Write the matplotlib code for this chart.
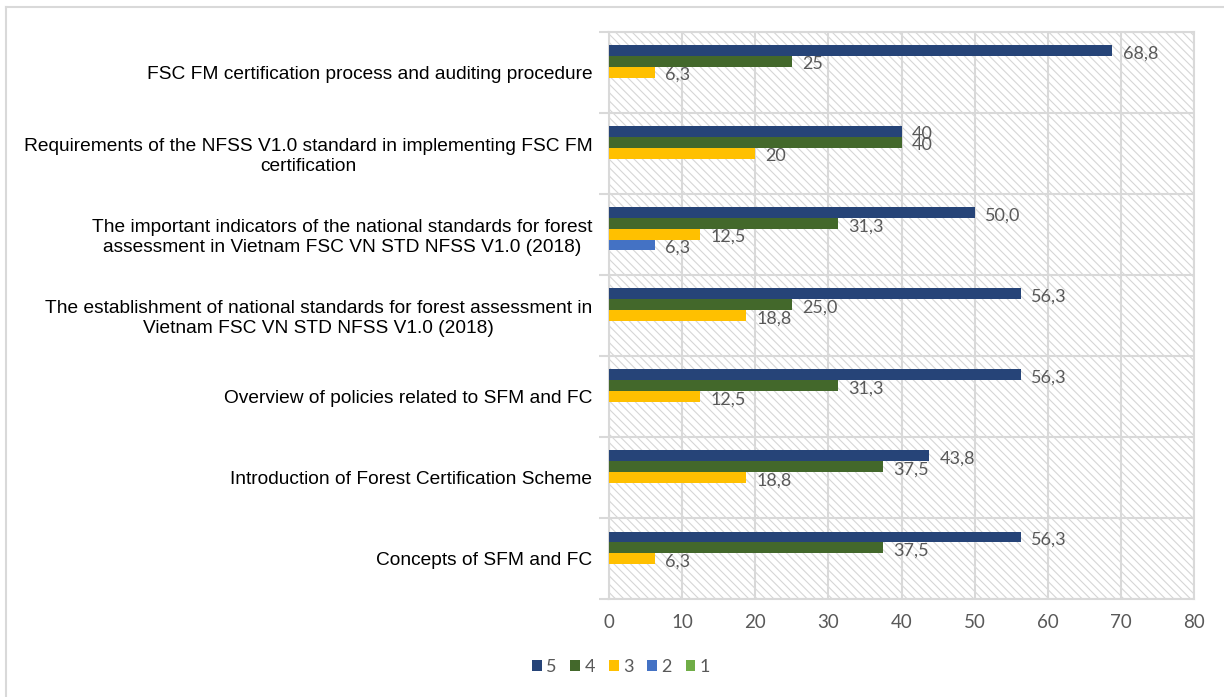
import matplotlib
matplotlib.use("Agg")
import matplotlib.pyplot as plt
from matplotlib.patches import Rectangle, Patch
from matplotlib.lines import Line2D
import numpy as np

categories = [
    "Concepts of SFM and FC",
    "Introduction of Forest Certification Scheme",
    "Overview of policies related to SFM and FC",
    "The establishment of national standards for forest assessment in\nVietnam FSC VN STD NFSS V1.0 (2018)",
    "The important indicators of the national standards for forest\nassessment in Vietnam FSC VN STD NFSS V1.0 (2018)",
    "Requirements of the NFSS V1.0 standard in implementing FSC FM\ncertification",
    "FSC FM certification process and auditing procedure",
]
series_names = ["5", "4", "3", "2", "1"]
s5 = [56.3, 43.8, 56.3, 56.3, 50.0, 40, 68.8]
s4 = [37.5, 37.5, 31.3, 25.0, 31.3, 40, 25]
s3 = [6.3, 18.8, 12.5, 18.8, 12.5, 20, 6.3]
s2 = [0, 0, 0, 0, 6.3, 0, 0]
s1 = [0, 0, 0, 0, 0, 0, 0]
l5 = ["56,3", "43,8", "56,3", "56,3", "50,0", "40", "68,8"]
l4 = ["37,5", "37,5", "31,3", "25,0", "31,3", "40", "25"]
l3 = ["6,3", "18,8", "12,5", "18,8", "12,5", "20", "6,3"]
l2 = ["", "", "", "", "6,3", "", ""]
l1 = ["", "", "", "", "", "", ""]
xticks = [0, 10, 20, 30, 40, 50, 60, 70, 80]

colors = ["#264478", "#43682B", "#FFC000", "#4472C4", "#70AD47"]
values = [s5, s4, s3, s2, s1]
labels = [l5, l4, l3, l2, l1]

W, H = 1224, 697
fig = plt.figure(figsize=(W / 100, H / 100), dpi=100)
fig.patch.set_facecolor("white")
ax = fig.add_axes([609 / W, 1 - 599 / H, (1194 - 609) / W, (599 - 31.7) / H])

grid_c = "#d9d9d9"
plt.rcParams["hatch.linewidth"] = 0.8
plt.rcParams["hatch.color"] = "#d6d6d6"
bg = Rectangle((0, 0), 1, 1, transform=ax.transAxes, facecolor="white",
               edgecolor="#d6d6d6", hatch="\\\\\\\\", lw=0, zorder=0)
ax.add_patch(bg)
ax.set_facecolor("white")

y = np.arange(len(categories))
h = 0.133
offsets = [2 * h, h, 0, -h, -2 * h]
for vals, labs, c, off in zip(values, labels, colors, offsets):
    ax.barh(y + off, vals, height=h, color=c, zorder=3, lw=0)
    for yi, v, lab in zip(y, vals, labs):
        if lab:
            ax.annotate(lab, (v, yi + off), xytext=(7.5, -2), textcoords="offset points",
                        va="center", ha="left", fontsize=13, color="#595959",
                        family="Lato", zorder=4)

ax.set_xlim(0, 80)
ax.set_ylim(-0.5, len(categories) - 0.5)
ax.set_xticks(xticks)
ax.set_xticklabels([str(t) for t in xticks], family="Lato", fontsize=13.5, color="#595959")
ax.tick_params(axis="x", length=0, pad=11)
ax.set_yticks(y)
ax.set_yticklabels(categories, family="Liberation Sans", fontsize=13.8, color="black",
                   multialignment="center")
ax.tick_params(axis="y", which="major", length=0, pad=12)
ax.set_yticks(np.arange(-0.5, len(categories), 1), minor=True)
ax.tick_params(axis="y", which="minor", length=7, width=1.5, color=grid_c)
ax.grid(axis="x", color=grid_c, lw=1.5, zorder=1)
ax.grid(axis="y", which="minor", color=grid_c, lw=1.5, zorder=1)
for s in ax.spines.values():
    s.set_color(grid_c)
    s.set_linewidth(1.5)

handles = [Patch(facecolor=c, edgecolor="none") for c in colors]
leg = fig.legend(handles, series_names, loc="center", ncol=5, frameon=False,
                 bbox_to_anchor=(621 / W, 1 - 667 / H), handlelength=0.55, handleheight=0.55,
                 handletextpad=0.25, columnspacing=0.75,
                 prop={"family": "Lato", "size": 13})
for t in leg.get_texts():
    t.set_color("#595959")

# outer border (top and left visible)
fig.add_artist(Line2D([5.5 / W, 5.5 / W], [1 - 7 / H, 0], transform=fig.transFigure,
                      color="#d9d9d9", lw=1.5))
fig.add_artist(Line2D([5.5 / W, 1], [1 - 7 / H, 1 - 7 / H], transform=fig.transFigure,
                      color="#d9d9d9", lw=1.5))

fig.savefig("out.png", dpi=100, facecolor="white")
